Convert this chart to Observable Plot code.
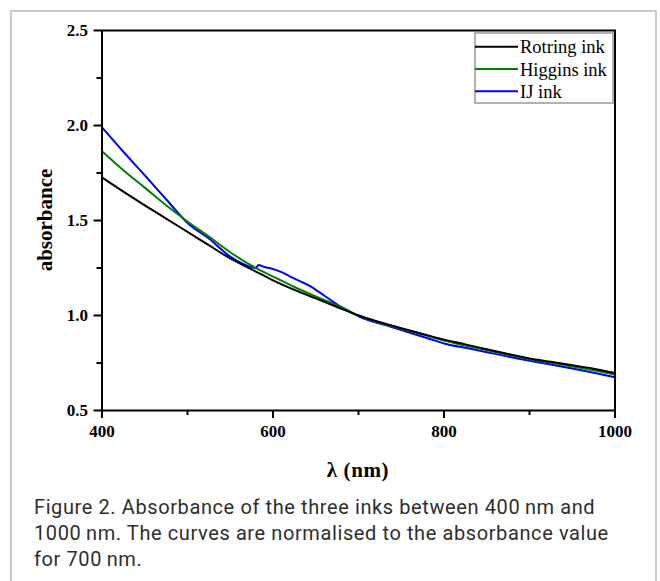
<!DOCTYPE html>
<html>
<head>
<meta charset="utf-8">
<script src="https://cdn.jsdelivr.net/npm/d3@7"></script>
<script src="https://cdn.jsdelivr.net/npm/@observablehq/plot@0.6"></script>
<style>
  html, body { margin: 0; padding: 0; background: #fff; width: 660px; height: 581px; overflow: hidden; }
  #box { position: absolute; left: 10px; top: 10px; width: 643px; height: 640px;
         border: 2px solid #cccccc; border-bottom: none; }
  #chart { position: absolute; left: 0; top: 0; }
  #caption { position: absolute; left: 34px; top: 494px; width: 620px; white-space: nowrap;
             font-family: Roboto, "Noto Sans", sans-serif; font-size: 20px; letter-spacing: 0.6px;
             line-height: 26px; color: #2e2e2e; }
</style>
</head>
<body>
<div id="box"></div>
<div id="chart"></div>
<div id="caption">Figure 2. Absorbance of the three inks between 400&#8201;nm and<br>1000&#8201;nm. The curves are normalised to the absorbance value<br>for 700&#8201;nm.</div>
<script>
// ---- data ----
const inks = ["Rotring ink", "Higgins ink", "IJ ink"];
const inkColors = ["#000000", "#008000", "#0000ff"];

const rotringWavelength = [400,425,450,475,500,525,550,575,600,625,650,675,700,725,750,775,800,825,850,875,900,925,950,975,1000];
const rotringAbsorbance = [1.726,1.652,1.58,1.51,1.44,1.37,1.30,1.243,1.185,1.135,1.09,1.045,1.0,0.965,0.933,0.903,0.873,0.848,0.822,0.797,0.774,0.756,0.738,0.72,0.697];

const higginsWavelength = [400,425,450,475,500,525,550,575,600,625,650,675,700,725,750,775,800,825,850,875,900,925,950,975,1000];
const higginsAbsorbance = [1.865,1.765,1.673,1.58,1.495,1.415,1.333,1.262,1.205,1.15,1.10,1.053,1.0,0.962,0.93,0.90,0.868,0.842,0.818,0.793,0.77,0.751,0.732,0.712,0.69];

const ijWavelength = [400,425,450,475,500,525,550,565,580,583,590,597,610,620,632,644,655,667,678,690,702,714,737,761,780,800,831,860,889,920,950,975,1000];
const ijAbsorbance = [1.99,1.862,1.738,1.612,1.487,1.405,1.31,1.272,1.25,1.266,1.255,1.249,1.228,1.205,1.18,1.153,1.12,1.083,1.05,1.021,0.992,0.972,0.942,0.908,0.882,0.853,0.825,0.798,0.771,0.746,0.721,0.699,0.675];

const xMajorTicks = [400, 600, 800, 1000];
const xMinorTicks = [500, 700, 900];
const yMajorTicks = [0.5, 1.0, 1.5, 2.0, 2.5];
const yMinorTicks = [0.75, 1.25, 1.75, 2.25];

// ---- build table ----
const rows = [];
[[ijWavelength, ijAbsorbance, "IJ ink"],
 [higginsWavelength, higginsAbsorbance, "Higgins ink"],
 [rotringWavelength, rotringAbsorbance, "Rotring ink"]].forEach(([w, a, ink]) => {
  w.forEach((x, i) => rows.push({wl: x, v: a[i], ink}));
});

const serif = '"Liberation Serif", "Times New Roman", serif';
const W = 660, H = 480;
const mL = 101.5, mR = 45.5, mT = 30, mB = 70;

const chart = Plot.plot({
  width: W, height: H,
  marginLeft: mL, marginRight: mR, marginTop: mT, marginBottom: mB,
  style: {fontFamily: serif, color: "#000", background: "transparent", overflow: "visible"},
  x: {domain: [400, 1000], label: null},
  y: {domain: [0.5, 2.5], label: null},
  color: {domain: inks, range: inkColors},
  marks: [
    Plot.axisX({ticks: xMajorTicks, tickSize: 8, tickPadding: 6, strokeWidth: 2, tickFormat: d3.format("d"), label: null}),
    Plot.axisX({ticks: xMinorTicks, tickSize: 5, strokeWidth: 2, tickFormat: () => "", label: null}),
    Plot.axisY({ticks: yMajorTicks, tickSize: 8, tickPadding: 6, strokeWidth: 2, tickFormat: d3.format(".1f"), label: null}),
    Plot.axisY({ticks: yMinorTicks, tickSize: 5, strokeWidth: 2, tickFormat: () => "", label: null}),
    Plot.line(rows, {x: "wl", y: "v", z: "ink", stroke: "ink", strokeWidth: 2, curve: "monotone-x"}),
    Plot.frame({stroke: "#000", strokeWidth: 2})
  ]
});
document.getElementById("chart").appendChild(chart);

const svg = d3.select(chart);
// tick label typography
svg.selectAll('g[aria-label$="tick label"]')
  .attr("font-size", 17).attr("font-weight", "bold").attr("font-family", serif).attr("fill", "#000");
svg.selectAll('g[aria-label$="tick label"] text')
  .attr("font-size", 17).attr("font-weight", "bold");
svg.selectAll('g[aria-label$="tick"]').attr("stroke", "#000");

// ---- titles and legend ----
svg.append("text")
  .attr("transform", "translate(52,220) rotate(-90)")
  .attr("text-anchor", "middle")
  .attr("font-family", serif).attr("font-weight", "bold").attr("font-size", 21)
  .attr("fill", "#000")
  .text("absorbance");
svg.append("text")
  .attr("x", (mL + (W - mR)) / 2).attr("y", 477)
  .attr("text-anchor", "middle")
  .attr("font-family", serif).attr("font-weight", "bold").attr("font-size", 21)
  .attr("letter-spacing", 0.6)
  .attr("fill", "#000")
  .text("λ (nm)");

const lg = svg.append("g");
lg.append("rect").attr("x", 475).attr("y", 33).attr("width", 138).attr("height", 70)
  .attr("fill", "#fff").attr("stroke", "#999").attr("stroke-width", 1.5);
inks.forEach((ink, i) => {
  const y = 46.7 + i * 22.3;
  lg.append("line").attr("x1", 475).attr("x2", 518).attr("y1", y).attr("y2", y)
    .attr("stroke", inkColors[i]).attr("stroke-width", 2);
  lg.append("text").attr("x", 520).attr("y", y + 6.5)
    .attr("text-anchor", "start")
    .attr("font-family", serif).attr("font-size", 18.5).attr("fill", "#000")
    .text(ink);
});
</script>
</body>
</html>
